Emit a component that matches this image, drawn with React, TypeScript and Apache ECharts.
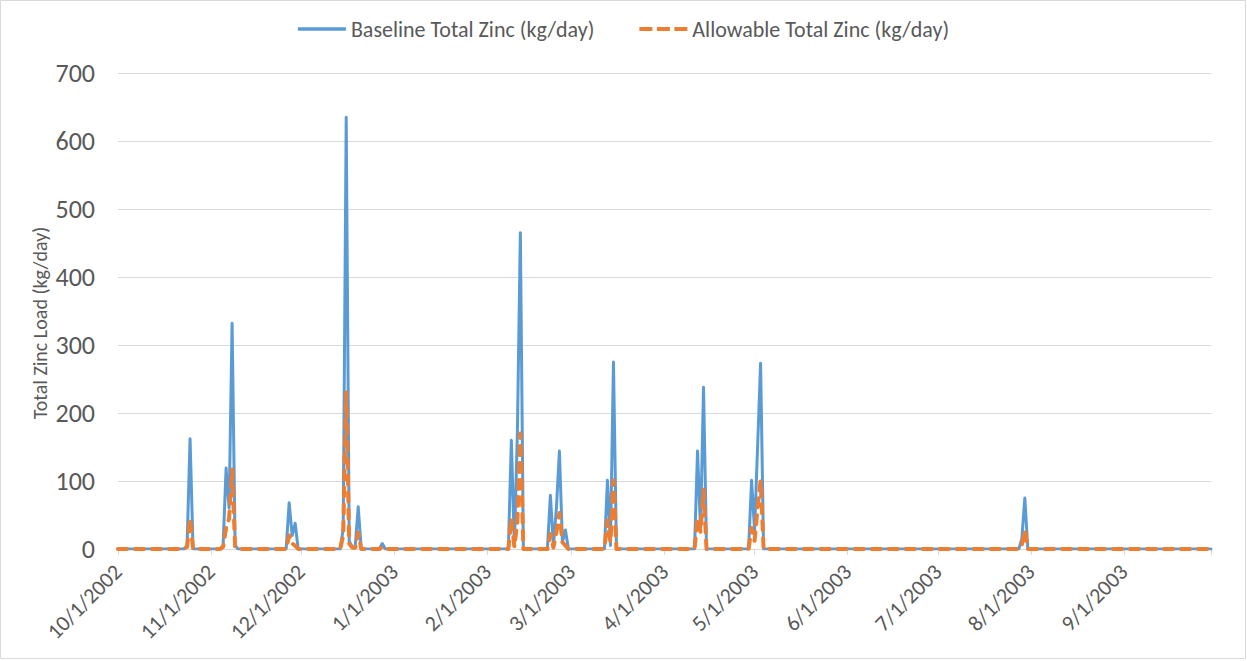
import React, { useEffect, useRef } from "react";
import * as echarts from "echarts";

// Days (index from 10/1/2002) where loads are non-zero; all other days read as 0
const spikeDays = [
  23, 24, 25,
  35, 36, 37, 38, 39,
  57, 58, 59,
  74, 75, 76, 77, 78, 79, 80, 81,
  88,
  130, 131, 132, 133, 134, 135,
  143, 144, 145, 146, 147, 148, 149, 150,
  162, 163, 164, 165, 166,
  192, 193, 194, 195, 196,
  210, 211, 212, 213, 214, 215,
  301, 302, 303,
];
const baselineValues = [
  5, 162, 0,
  5, 119, 60, 332, 5,
  68, 20, 38,
  0, 30, 635, 12, 3, 4, 62, 0,
  8,
  0, 160, 5, 170, 465, 0,
  0, 79, 5, 60, 144, 10, 28, 0,
  0, 101, 5, 275, 0,
  0, 144, 28, 238, 0,
  0, 101, 28, 150, 273, 0,
  15, 75, 0,
];
const allowableValues = [
  3, 45, 0,
  3, 31, 45, 117, 3,
  20, 8, 5,
  0, 20, 230, 8, 2, 2, 24, 0,
  3,
  0, 45, 3, 40, 170, 0,
  0, 22, 2, 25, 53, 10, 5, 0,
  0, 42, 10, 101, 0,
  0, 45, 25, 87, 0,
  0, 31, 12, 60, 101, 0,
  5, 28, 0,
];

const seriesNames = ["Baseline Total Zinc (kg/day)", "Allowable Total Zinc (kg/day)"];
const yAxisTitle = "Total Zinc Load (kg/day)";
const startDate = Date.UTC(2002, 9, 1);
const dayCount = 365;

function buildDates(): string[] {
  const out: string[] = [];
  for (let i = 0; i < dayCount; i++) {
    const d = new Date(startDate + i * 86400000);
    out.push(`${d.getUTCMonth() + 1}/${d.getUTCDate()}/${d.getUTCFullYear()}`);
  }
  return out;
}

function buildSeries(values: number[]): number[] {
  const arr: number[] = new Array(dayCount).fill(0);
  spikeDays.forEach((day, k) => {
    arr[day] = values[k];
  });
  return arr;
}

const FONT = "Carlito, Lato, sans-serif";
const TEXT = "#595959";
const GRID = "#D9D9D9";
const BLUE = "#5B9BD5";
const ORANGE = "#ED7D31";

export default function App() {
  const ref = useRef<HTMLDivElement>(null);
  useEffect(() => {
    if (!ref.current) return;
    const chart = echarts.init(ref.current, null, { renderer: "svg" });
    const dates = buildDates();
    const isMonthStart = (i: number) => dates[i].split("/")[1] === "1";
    chart.setOption({
      animation: false,
      backgroundColor: "#fff",
      textStyle: { fontFamily: FONT },
      legend: {
        top: 13,
        left: "center",
        itemWidth: 48,
        itemHeight: 4,
        itemGap: 45,
        textStyle: { color: TEXT, fontSize: 22, fontFamily: FONT },
        data: [
          { name: seriesNames[0], icon: "path://M0,0H48V3.5H0Z", itemStyle: { color: BLUE } },
          {
            name: seriesNames[1],
            icon: "path://M0,0H13V4H0ZM17.5,0H30.5V4H17.5ZM35,0H48V4H35Z",
            itemStyle: { color: ORANGE },
          },
        ],
      },
      grid: { left: 118, right: 36, top: 73, bottom: 112, containLabel: false },
      xAxis: {
        type: "category",
        data: dates,
        boundaryGap: false,
        axisLine: { lineStyle: { color: GRID, width: 1 } },
        axisTick: {
          show: true,
          length: 6,
          lineStyle: { color: GRID },
          interval: (i: number) => isMonthStart(i) || i === dayCount - 1,
        },
        axisLabel: {
          interval: (i: number) => isMonthStart(i),
          rotate: 45,
          color: TEXT,
          fontSize: 22,
          fontFamily: FONT,
          margin: 19,
        },
        splitLine: { show: false },
      },
      yAxis: {
        type: "value",
        min: 0,
        max: 700,
        interval: 100,
        axisLine: { show: false },
        axisTick: { show: false },
        axisLabel: { color: TEXT, fontSize: 26, fontFamily: FONT, margin: 23 },
        splitLine: { lineStyle: { color: GRID, width: 1 } },
      },
      graphic: [
        {
          type: "rect",
          shape: { x: 0.5, y: 0.5, width: 1245, height: 658 },
          style: { fill: "none", stroke: GRID, lineWidth: 1 },
          silent: true,
        },
        {
          type: "text",
          x: 40,
          y: 323,
          rotation: Math.PI / 2,
          style: {
            text: yAxisTitle,
            fill: TEXT,
            fontSize: 20,
            fontFamily: FONT,
            align: "center",
            verticalAlign: "middle",
          },
          silent: true,
        },
      ],
      series: [
        {
          name: seriesNames[0],
          type: "line",
          data: buildSeries(baselineValues),
          symbol: "none",
          showSymbol: false,
          lineStyle: { color: BLUE, width: 3, join: "round", cap: "round" },
          itemStyle: { color: BLUE },
          z: 2,
        },
        {
          name: seriesNames[1],
          type: "line",
          data: buildSeries(allowableValues),
          symbol: "none",
          showSymbol: false,
          lineStyle: { color: ORANGE, width: 4, type: [9, 8], cap: "round", join: "round" },
          itemStyle: { color: ORANGE },
          z: 3,
        },
      ],
    });
    return () => chart.dispose();
  }, []);
  return (
    <div
      ref={ref}
      style={{ position: "fixed", left: 0, top: 0, width: 1247, height: 661 }}
    />
  );
}
